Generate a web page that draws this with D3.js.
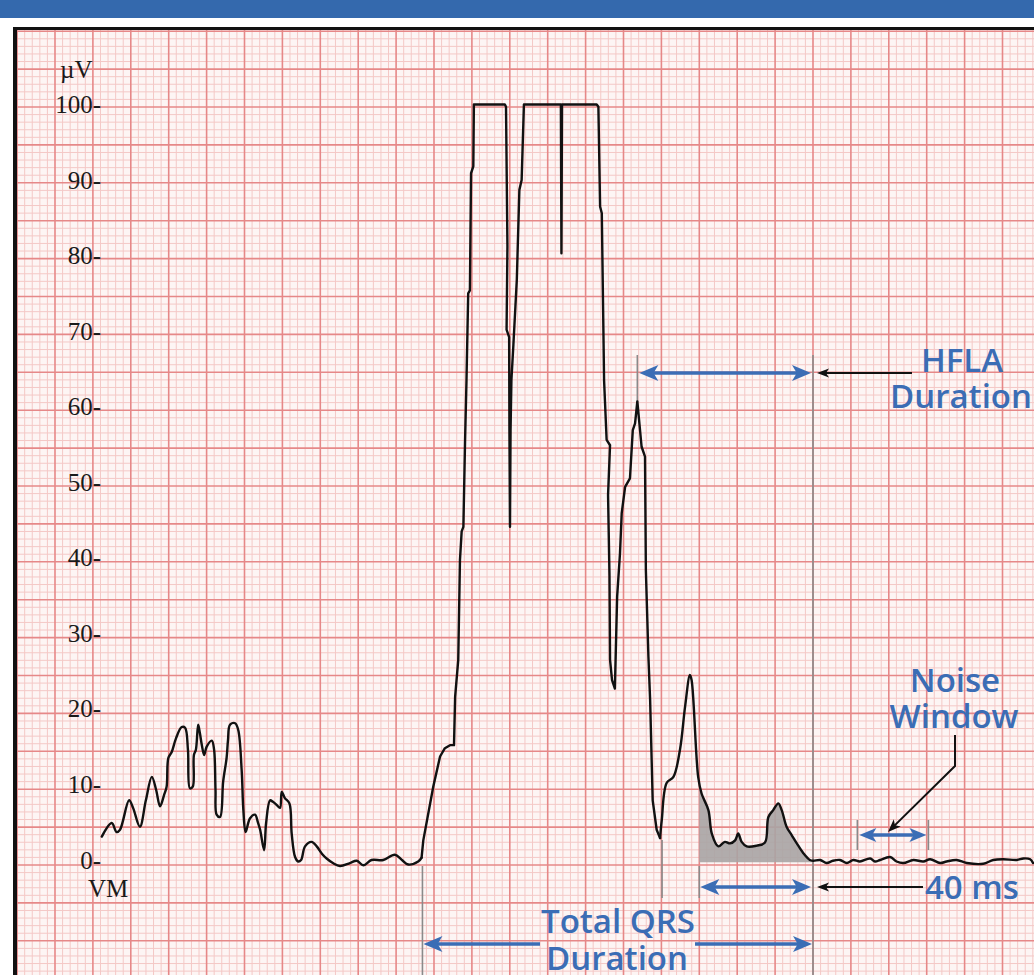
<!DOCTYPE html>
<html>
<head>
<meta charset="utf-8">
<script src="https://cdn.jsdelivr.net/npm/d3@7"></script>
<style>
body { margin: 0; background: #fff; }
svg { display: block; }
</style>
</head>
<body>
<div id="chart"></div>
<script>
// filtered vector magnitude (VM), time in ms, amplitude in µV
var preQrs = [[29.8,3.1],[33.3,4.9],[35.0,3.7],[36.2,4.0],[39.4,7.9],[40.8,6.9],[43.2,4.4],[45.3,7.9],[47.4,11.0],[48.9,9.3],[50.3,7.1],[51.7,8.6],[52.6,9.7],[53.2,13.5],[54.4,14.3],[55.9,16.1],[57.9,17.6],[59.1,17.5],[60.1,14.6],[60.8,9.5],[61.8,9.7],[62.2,13.9],[62.9,14.6],[63.7,17.9],[64.3,16.8],[65.0,15.2],[65.8,13.9],[66.7,15.0],[68.5,15.8],[69.3,14.6],[69.8,9.3],[70.2,6.0],[71.4,5.7],[72.5,10.4],[73.7,13.5],[74.2,15.9],[74.9,17.9],[76.7,18.1],[77.8,17.2],[79.0,11.9],[79.6,6.6],[80.4,3.7],[81.9,5.5],[83.7,6.0],[84.7,5.0],[85.5,4.0],[86.9,1.3],[87.6,4.9],[89.0,7.9],[90.0,7.7],[91.3,7.3],[92.5,6.9],[93.1,9.0],[94.2,8.2],[95.8,7.5],[96.6,3.5],[97.8,0.4],[98.9,-0.2],[99.9,0],[101.3,1.8],[103.6,2.4],[105.4,1.8],[107.3,0.8],[108.9,0.2],[111.1,-0.4],[113.6,-0.8],[117.1,-0.4],[119.5,-0.1],[121.8,-0.7],[124.7,0],[128.8,0],[132.9,0.7],[135.4,0],[137.6,-0.6],[141.1,-0.2]];
var qrs = [[142.3,0.3],[142.9,2.6],[146.4,9.7],[148.8,13.7],[150.5,14.8],[152.3,15.2],[153.7,15.2],[154.1,21.6],[155.2,26.5],[155.8,39.7],[156.4,43.5],[157.0,44.1],[157.6,55.6],[158.1,63.5],[158.7,75.0],[159.3,75.4],[159.7,90.9],[160.5,91.8],[160.7,100],[171.6,100],[172.0,99.7],[172.5,81.2],[172.2,70.2],[173.1,69.2],[173.2,56.9],[173.4,44.1],[173.6,56.9],[173.9,63.5],[174.6,68.2],[175.8,76.8],[176.7,88.7],[177.5,90.0],[178.3,100],[191.3,100],[191.5,80.3],[191.7,100],[203.9,100],[204.5,99.7],[205.1,86.5],[205.7,85.6],[206.5,63.5],[207.4,55.6],[208.6,54.9],[207.9,48.3],[208.4,37.7],[208.6,26.5],[209.3,23.8],[210.3,22.7],[211.1,34.9],[212.1,40.6],[212.7,45.9],[213.9,49.4],[215.6,50.5],[216.6,56.9],[217.4,57.8],[218.2,60.7],[219.7,54.7],[220.9,53.4],[221.2,38.4],[222.1,26.9],[222.7,21.2],[223.6,7.9],[225.0,4.0],[226.2,2.9]];
var lateQrs = [[226.2,2.9],[226.8,5.3],[228.5,10.2],[230.9,11.0],[233.2,14.6],[235.0,20.3],[236.7,24.5],[237.3,23.8],[239.6,11.0],[240.8,8.8],[243.2,6.6],[244.4,3.5],[246.7,1.8],[249.0,2.4],[250.8,2.2],[252.6,2.6],[253.7,3.5],[254.9,2.4],[256.7,1.8],[260.2,1.9],[263.1,2.3],[264.3,5.7],[266.0,6.6],[267.8,7.5],[269.0,6.6],[270.7,4.4],[272.5,3.3],[274.3,2.2],[276.6,0.9],[278.9,0],[280.1,-0.1]];
var stSegment = [[282.5,0],[284.8,-0.4],[287.0,-0.1],[289.5,0],[291.9,-0.4],[294.2,0],[296.5,-0.2],[300.1,0.2],[301.8,-0.2],[303.6,0],[307.1,0.4],[309.4,-0.2],[311.8,-0.4],[315.3,0],[318.8,-0.2],[321.2,0.1],[324.7,-0.4],[327.0,-0.2],[330.5,0],[334.1,-0.4],[339.9,-0.5],[343.4,0],[346.9,0.1],[351.7,0],[354.0,0.2],[356.4,0.1],[357.4,-0.4]];

var yTicks = [0, 10, 20, 30, 40, 50, 60, 70, 80, 90, 100];

// measurement points (ms)
var qrsOnset = 142.6;
var qrsOffset = 280;
var hflaStart = 218.2;
var las40Start = 240;
var qrsNadir = 226.9;
var noiseWindow = [295.6, 320.6];

var W = 1034, H = 975;
var blue = "#3b6db5";

var svg = d3.select("#chart").append("svg")
  .attr("width", W)
  .attr("height", H);

// header band
svg.append("rect").attr("x", 0).attr("y", 0).attr("width", W).attr("height", 18).attr("fill", "#3469ad");

var x = d3.scaleLinear().domain([0, 360]).range([17.1, 17.1 + 360 * 2.8425]);
var y = d3.scaleLinear().domain([0, 100]).range([860, 104.5]);

// ecg paper
var paper = svg.append("g");
paper.append("rect")
  .attr("x", 17).attr("y", 29)
  .attr("width", W - 17).attr("height", H - 29)
  .attr("fill", "#fdf5f4");

var pitch = 7.58;
var vIdx = d3.range(0, 136);
var hIdx = d3.range(0, 126);
var gy = function(k) { return 31.2 + k * pitch; };

[false, true].forEach(function(major) {
  paper.selectAll(null)
    .data(vIdx.filter(function(k) { return (k % 5 === 0) === major; }))
    .enter().append("line")
      .attr("x1", function(k) { return x(k * 40 / 15); })
      .attr("x2", function(k) { return x(k * 40 / 15); })
      .attr("y1", 29).attr("y2", H)
      .attr("stroke", major ? "#e68888" : "#f4c8c6")
      .attr("stroke-width", major ? 1.6 : 1);
  paper.selectAll(null)
    .data(hIdx.filter(function(k) { return (k % 5 === 0) === major; }))
    .enter().append("line")
      .attr("x1", 17).attr("x2", W)
      .attr("y1", gy).attr("y2", gy)
      .attr("stroke", major ? "#e68888" : "#f4c8c6")
      .attr("stroke-width", major ? 1.6 : 1);
});

// frame
svg.append("rect").attr("x", 13).attr("y", 27).attr("width", 4).attr("height", H - 27).attr("fill", "#111");
svg.append("rect").attr("x", 13).attr("y", 27).attr("width", W - 13).attr("height", 3).attr("fill", "#111");

// y axis labels
var yAxis = d3.axisLeft(y)
  .tickValues(yTicks)
  .tickSize(0)
  .tickPadding(0)
  .tickFormat(function(d) { return d + "-"; });

var ax = svg.append("g")
  .attr("transform", "translate(101,0)")
  .call(yAxis);
ax.select(".domain").remove();
ax.selectAll("text")
  .attr("font-family", "'Liberation Serif', 'DejaVu Serif', serif")
  .attr("font-size", 25)
  .attr("fill", "#1a1a1a")
  .attr("dy", "0.32em");

svg.append("text").attr("x", 60).attr("y", 78)
  .attr("font-family", "'Liberation Serif', serif").attr("font-size", 25).attr("fill", "#1a1a1a")
  .text("µV");
svg.append("text").attr("x", 88).attr("y", 897)
  .attr("font-family", "'Liberation Serif', serif").attr("font-size", 25).attr("fill", "#1a1a1a")
  .text("VM");

// shaded last-40 ms area
svg.append("clipPath").attr("id", "lasClip")
  .append("rect")
    .attr("x", x(las40Start)).attr("y", 0)
    .attr("width", x(qrsOffset) - x(las40Start)).attr("height", H);

var smooth = d3.curveCatmullRom.alpha(0.5);

var area = d3.area()
  .x(function(d) { return x(d[0]); })
  .y0(y(-0.3))
  .y1(function(d) { return y(d[1]); })
  .curve(smooth);

svg.append("path")
  .datum(lateQrs.concat(stSegment.slice(0, 1)).filter(function(d) { return d[0] >= 237; }))
  .attr("clip-path", "url(#lasClip)")
  .attr("d", area)
  .attr("fill", "#a9a4a4")
  .attr("fill-opacity", 0.9);

// gray marker lines
var grayLines = [
  [qrsOnset, 866, H],
  [qrsNadir, 840, 898],
  [las40Start, 866, 898],
  [qrsOffset, 355, H],
  [hflaStart, 355, 402],
  [noiseWindow[0], 820, 850],
  [noiseWindow[1], 820, 850]
];
svg.selectAll(null).data(grayLines).enter().append("line")
  .attr("x1", function(d) { return x(d[0]); })
  .attr("x2", function(d) { return x(d[0]); })
  .attr("y1", function(d) { return d[1]; })
  .attr("y2", function(d) { return d[2]; })
  .attr("stroke", "#8a8a8a")
  .attr("stroke-width", 1.6);

// trace: slow parts smoothed, clipped QRS kept straight
var pieces = [
  [preQrs.concat(qrs.slice(0, 1)), smooth],
  [qrs, d3.curveLinear],
  [lateQrs.concat(stSegment), smooth]
];
pieces.forEach(function(p) {
  svg.append("path")
    .datum(p[0])
    .attr("d", d3.line()
      .x(function(d) { return x(d[0]); })
      .y(function(d) { return y(d[1]); })
      .curve(p[1]))
    .attr("fill", "none")
    .attr("stroke", "#111")
    .attr("stroke-width", 2.4)
    .attr("stroke-linejoin", "round")
    .attr("stroke-linecap", "round");
});

// arrows
function head(g, tip, from, len, half, color) {
  var a = Math.atan2(tip[1] - from[1], tip[0] - from[0]);
  var c = Math.cos(a), s = Math.sin(a);
  var p = function(u, v) { return [tip[0] + u * c - v * s, tip[1] + u * s + v * c]; };
  var pts = [p(0, 0), p(-len, -half), p(-len * 0.75, 0), p(-len, half)];
  g.append("path")
    .attr("d", "M" + pts.map(function(q) { return q[0] + "," + q[1]; }).join("L") + "Z")
    .attr("fill", color);
}

function arrow(pts, both, color, width, len, half) {
  var g = svg.append("g");
  var p = pts.map(function(q) { return q.slice(); });
  var n = p.length;
  var shorten = function(a, b) {
    var dx = a[0] - b[0], dy = a[1] - b[1], d = Math.sqrt(dx * dx + dy * dy);
    return [a[0] - dx / d * len * 0.7, a[1] - dy / d * len * 0.7];
  };
  var line2 = p.slice();
  line2[n - 1] = shorten(p[n - 1], p[n - 2]);
  if (both) line2[0] = shorten(p[0], p[1]);
  g.append("path")
    .attr("d", d3.line()(line2))
    .attr("fill", "none")
    .attr("stroke", color)
    .attr("stroke-width", width);
  head(g, p[n - 1], p[n - 2], len, half, color);
  if (both) head(g, p[0], p[1], len, half, color);
}

// HFLA
arrow([[x(hflaStart) + 2, 373], [x(qrsOffset) - 2, 373]], true, blue, 3.5, 19, 8);
arrow([[912, 373], [x(qrsOffset) + 4, 373]], false, "#111", 2, 12, 4.5);
// Total QRS
arrow([[540, 944], [x(qrsOnset) + 1, 944]], false, blue, 3.5, 19, 8);
arrow([[695, 944], [x(qrsOffset) - 1, 944]], false, blue, 3.5, 19, 8);
// 40 ms
arrow([[x(las40Start) + 1, 887], [x(qrsOffset) - 2, 887]], true, blue, 3.5, 19, 8);
arrow([[923, 887], [x(qrsOffset) + 4, 887]], false, "#111", 2, 12, 4.5);
// noise window
arrow([[x(noiseWindow[0]) + 2, 835], [x(noiseWindow[1]) - 2, 835]], true, blue, 3.5, 17, 7);
arrow([[955, 735], [955, 766], [888, 832]], false, "#111", 2, 13, 5);

// labels
var labels = [
  ["HFLA", 962, 372, "middle"],
  ["Duration", 961, 408, "middle"],
  ["Noise", 955, 692, "middle"],
  ["Window", 954, 728, "middle"],
  ["40 ms", 925, 899, "start"],
  ["Total QRS", 618, 933, "middle"],
  ["Duration", 617, 970, "middle"]
];
svg.selectAll(null).data(labels).enter().append("text")
  .attr("x", function(d) { return d[1]; })
  .attr("y", function(d) { return d[2]; })
  .attr("text-anchor", function(d) { return d[3]; })
  .attr("font-family", "'Open Sans', 'Noto Sans', sans-serif")
  .attr("font-weight", 600)
  .attr("font-size", 33)
  .attr("fill", blue)
  .text(function(d) { return d[0]; });
</script>
</body>
</html>
